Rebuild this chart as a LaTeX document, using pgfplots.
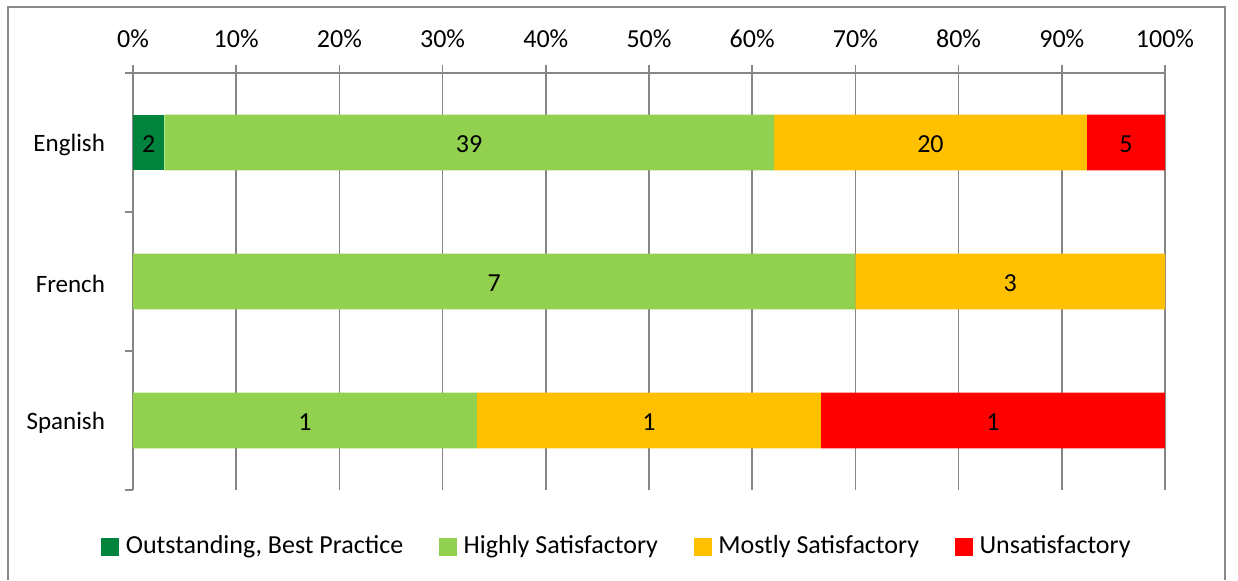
\documentclass[border=0pt]{standalone}
\usepackage{fontspec}
\setmainfont{Carlito}
\usepackage{pgfplots}
\pgfplotsset{compat=1.18}
\usepackage{pgfplotstable}

\definecolor{outst}{RGB}{0,132,61}
\definecolor{highly}{RGB}{146,208,80}
\definecolor{mostly}{RGB}{255,192,0}
\definecolor{unsat}{RGB}{255,0,0}
\definecolor{axgray}{RGB}{134,134,134}
\definecolor{framegray}{RGB}{137,137,137}

% counts of ratings per language
\pgfplotstableread{
lang    y os hs ms un total
English 2  2 39 20  5 66
French  1  0  7  3  0 10
Spanish 0  0  1  1  1  3
}\ratings

% the same counts, one row per non-empty segment (lo = count before it)
\pgfplotstableread{
y lo  n total
2  0  2 66
2  2 39 66
2 41 20 66
2 61  5 66
1  0  7 10
1  7  3 10
0  0  1  3
0  1  1  3
0  2  1  3
}\segments

\newcommand\chartfont{\fontsize{13}{15.6}\selectfont}

\begin{document}
\chartfont
\begin{tikzpicture}
\useasboundingbox (0pt,0pt) rectangle (619pt,290pt);
\draw[framegray, line width=0.7pt] (4pt,0pt) -- (4pt,286.5pt) -- (612.5pt,286.5pt) -- (612.5pt,0pt);
\pgfplotsset{
  frame geometry/.style={
    at={(66.5pt,45pt)}, anchor=south west,
    scale only axis, width=516pt, height=208.5pt,
    xmin=0, xmax=100, ymin=-0.5, ymax=2.5,
    enlargelimits=false,
  }
}
\begin{axis}[
  frame geometry,
  xbar stacked, bar width=0.4,
  axis x line*=top, axis y line*=left,
  axis line style={axgray, line width=0.75pt},
  tick align=outside, major tick length=4pt,
  tick style={axgray, line width=0.75pt},
  xtick={0,10,...,100},
  xticklabel={\pgfmathprintnumber{\tick}\%},
  /pgf/number format/assume math mode=true,
  xmajorgrids, grid style={axgray, line width=0.75pt},
  ytick={-0.5,0.5,1.5,2.5}, yticklabels={},
  extra y ticks={0,1,2},
  extra y tick labels={Spanish,French,English},
  extra y tick style={major tick length=0pt,
    yticklabel style={xshift=-9.5pt, yshift=-1pt, font=\fontsize{12.5}{15}\selectfont}},
  xticklabel style={yshift=4pt},
  tick label style={font=\chartfont},
  every axis plot post/.append style={
    legend image code/.code={\fill[##1] (0pt,-4.5pt) rectangle (9pt,4.5pt);}},
  legend columns=4,
  legend style={draw=none, fill=none, at={(0.47,-0.136)}, anchor=center,
    font=\chartfont,
    /tikz/every odd column/.append style={column sep=1.2pt},
    /tikz/every even column/.append style={column sep=16pt}},
]
\addplot[fill=outst, draw=none]
  table[x expr=\thisrow{os}/\thisrow{total}*100, y=y] {\ratings};
\addlegendentry{Outstanding, Best Practice}
\addplot[fill=highly, draw=none]
  table[x expr=\thisrow{hs}/\thisrow{total}*100, y=y] {\ratings};
\addlegendentry{Highly Satisfactory}
\addplot[fill=mostly, draw=none]
  table[x expr=\thisrow{ms}/\thisrow{total}*100, y=y] {\ratings};
\addlegendentry{Mostly Satisfactory}
\addplot[fill=unsat, draw=none]
  table[x expr=\thisrow{un}/\thisrow{total}*100, y=y] {\ratings};
\addlegendentry{Unsatisfactory}
\end{axis}
% segment counts, centred in each segment
\begin{axis}[frame geometry, hide axis]
\addplot[draw=none, mark=none, nodes near coords, point meta=explicit symbolic,
  every node near coord/.append style={anchor=center, yshift=-1pt, text=black, font=\chartfont}]
  table[x expr=(\thisrow{lo}+\thisrow{n}/2)/\thisrow{total}*100, y=y, meta=n] {\segments};
\end{axis}
\end{tikzpicture}
\end{document}
